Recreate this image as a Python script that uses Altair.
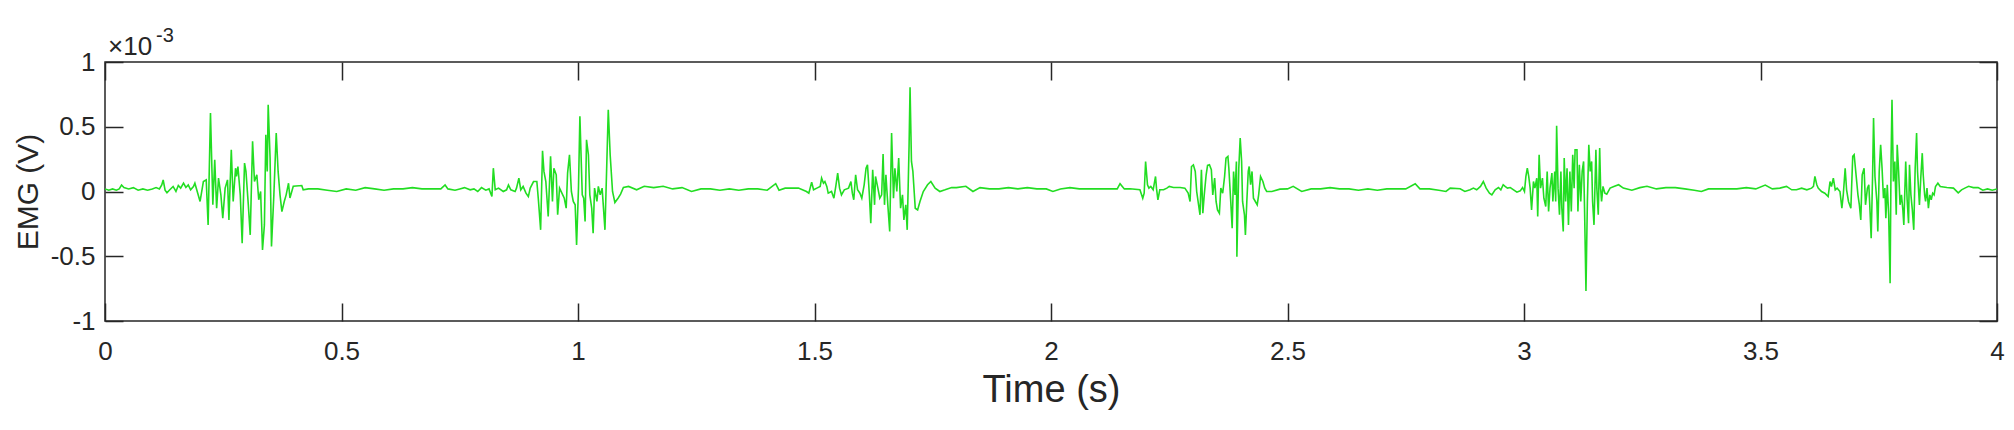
import altair as alt
import pandas as pd

FONT = "Liberation Sans"
AXIS_COLOR = "#262626"
LINE_COLOR = "#22DD22"

# Tick values
x_ticks = [0, 0.5, 1, 1.5, 2, 2.5, 3, 3.5, 4]
y_ticks = [-1, -0.5, 0, 0.5, 1]

# EMG signal (time in s, value in units of 1e-3 V)
q0_t = [0.000, 0.008, 0.016, 0.024, 0.030, 0.035, 0.040, 0.050, 0.060, 0.070, 0.080, 0.090, 0.100, 0.108, 0.115, 0.120, 0.123, 0.127, 0.131]
q0_v = [0.02, 0.01, 0.02, 0.01, 0.02, 0.05, 0.03, 0.02, 0.03, 0.01, 0.02, 0.01, 0.02, 0.03, 0.02, 0.05, 0.09, 0.01, -0.01]

b1_t = [0.137, 0.144, 0.150, 0.155, 0.160, 0.166, 0.171, 0.176, 0.181, 0.187,
        0.190, 0.201, 0.208, 0.214, 0.218, 0.223, 0.228, 0.232, 0.236, 0.240,
        0.245, 0.249, 0.254, 0.259, 0.262, 0.267, 0.271, 0.276, 0.278, 0.281,
        0.286, 0.290, 0.295, 0.298, 0.303, 0.307, 0.312, 0.316, 0.321, 0.325,
        0.329, 0.333, 0.337, 0.340, 0.343, 0.345, 0.349, 0.352, 0.357, 0.362,
        0.366, 0.370, 0.374, 0.379, 0.383, 0.388, 0.391, 0.398, 0.416, 0.419]
b1_v = [0.013, 0.039, 0.0, 0.046, 0.026, 0.064, 0.031, 0.051, 0.013, 0.039,
        0.064, -0.077, 0.077, 0.090, -0.258, 0.606, -0.103, 0.245, -0.129, 0.103,
        -0.026, -0.206, 0.026, 0.090, -0.219, 0.322, -0.077, 0.180, 0.116, 0.193,
        -0.026, -0.399, 0.219, 0.155, -0.103, -0.335, 0.387, 0.077, 0.129, -0.064,
        0.0, -0.451, -0.258, 0.438, 0.155, 0.670, 0.258, -0.425, -0.026, 0.451,
        0.155, -0.026, -0.155, -0.077, -0.026, 0.064, -0.050, 0.040, 0.046, 0.013]

q1_t = [0.43, 0.45, 0.47, 0.49, 0.51, 0.53, 0.55, 0.57, 0.59, 0.61, 0.63, 0.65, 0.67, 0.69, 0.71, 0.719, 0.725, 0.74, 0.75, 0.76]
q1_v = [0.02, 0.02, 0.01, 0.0, 0.02, 0.01, 0.03, 0.02, 0.01, 0.02, 0.02, 0.03, 0.02, 0.02, 0.02, 0.05, 0.02, 0.01, 0.02, 0.03]

b2_t = [0.772, 0.780, 0.788, 0.796, 0.805, 0.812, 0.818, 0.821, 0.825, 0.832,
        0.842, 0.849, 0.853, 0.858, 0.867, 0.870, 0.875, 0.879, 0.884, 0.890,
        0.895, 0.899, 0.906, 0.913, 0.916, 0.921, 0.925, 0.928, 0.932, 0.937,
        0.942, 0.946, 0.949, 0.954, 0.957, 0.961, 0.966, 0.971, 0.975, 0.978,
        0.982, 0.986, 0.990, 0.994, 0.997, 1.001, 1.004, 1.009, 1.012, 1.015,
        1.018, 1.022, 1.025, 1.029, 1.032, 1.035, 1.040, 1.043, 1.047, 1.051,
        1.057, 1.061, 1.064, 1.068, 1.073, 1.078, 1.085, 1.090, 1.096, 1.107, 1.124]
b2_v = [0.013, 0.020, 0.0, 0.030, 0.010, 0.020, -0.039, 0.180, 0.013, 0.026,
        0.0, 0.013, 0.050, 0.013, 0.0, 0.026, 0.103, 0.013, 0.039, -0.013,
        -0.039, 0.026, 0.077, 0.077, -0.052, -0.296, 0.314, 0.155, 0.077, -0.193,
        0.271, -0.077, 0.180, 0.129, -0.180, 0.026, -0.013, -0.052, -0.129, 0.142,
        0.284, 0.0, -0.077, -0.103, -0.412, 0.026, 0.580, -0.026, -0.052, -0.232,
        0.399, 0.284, -0.026, -0.129, -0.322, 0.026, -0.077, 0.039, -0.026, 0.026,
        -0.296, 0.232, 0.631, 0.284, 0.0, -0.085, -0.050, -0.020, 0.031, 0.039, 0.013]

q2_t = [1.14, 1.16, 1.18, 1.20, 1.22, 1.24, 1.26, 1.28, 1.30, 1.32, 1.34, 1.36, 1.38, 1.40, 1.418, 1.425]
q2_v = [0.04, 0.03, 0.04, 0.02, 0.03, 0.0, 0.02, 0.02, 0.01, 0.02, 0.01, 0.02, 0.02, 0.01, 0.06, 0.01]

b3_t = [1.438, 1.466, 1.483, 1.488, 1.494, 1.498, 1.505, 1.512, 1.515, 1.519,
        1.522, 1.526, 1.529, 1.536, 1.541, 1.545, 1.549, 1.553, 1.557, 1.563,
        1.572, 1.577, 1.580, 1.583, 1.587, 1.591, 1.596, 1.600, 1.605, 1.609,
        1.612, 1.616, 1.619, 1.623, 1.627, 1.629, 1.634, 1.638, 1.642, 1.645,
        1.648, 1.651, 1.655, 1.659, 1.663, 1.667, 1.670, 1.674, 1.678, 1.682,
        1.686, 1.689, 1.693, 1.696, 1.700, 1.702, 1.705, 1.708, 1.713, 1.718,
        1.723, 1.730, 1.739, 1.746, 1.755, 1.765, 1.776, 1.790]
b3_v = [0.026, 0.026, 0.0, -0.013, 0.072, 0.013, 0.026, 0.039, 0.103, 0.064,
        0.077, 0.039, -0.013, 0.0, -0.052, 0.039, 0.142, 0.026, -0.026, 0.013,
        0.026, 0.077, -0.013, -0.064, 0.129, 0.013, -0.013, -0.052, 0.052, 0.180,
        0.206, -0.026, -0.245, 0.168, -0.103, 0.116, 0.026, -0.052, -0.026, 0.290,
        -0.103, 0.129, -0.103, -0.309, 0.451, -0.052, 0.180, 0.0, 0.258, -0.129,
        -0.026, -0.219, -0.103, -0.296, 0.361, 0.804, 0.232, 0.155, -0.129, -0.142,
        -0.077, 0.0, 0.052, 0.077, 0.026, 0.0, 0.013, 0.031]

q3_t = [1.80, 1.82, 1.835, 1.85, 1.87, 1.89, 1.91, 1.93, 1.95, 1.97, 1.99, 2.004, 2.02, 2.04, 2.06, 2.08, 2.10, 2.12, 2.14, 2.146, 2.155]
q3_v = [0.03, 0.04, 0.0, 0.03, 0.02, 0.02, 0.03, 0.02, 0.03, 0.02, 0.02, 0.0, 0.02, 0.03, 0.02, 0.02, 0.02, 0.02, 0.02, 0.06, 0.02]

b4_t = [2.167, 2.188, 2.194, 2.197, 2.200, 2.204, 2.207, 2.211, 2.216, 2.221,
        2.223, 2.226, 2.230, 2.238, 2.245, 2.250, 2.259, 2.273, 2.283, 2.290,
        2.294, 2.297, 2.301, 2.305, 2.308, 2.312, 2.315, 2.318, 2.321, 2.324,
        2.328, 2.331, 2.335, 2.339, 2.342, 2.346, 2.349, 2.352, 2.356, 2.359,
        2.363, 2.367, 2.370, 2.374, 2.376, 2.380, 2.383, 2.386, 2.389, 2.392,
        2.393, 2.397, 2.400, 2.403, 2.405, 2.409, 2.411, 2.414, 2.417, 2.419,
        2.422, 2.425, 2.428, 2.432, 2.436, 2.439, 2.443, 2.448, 2.452, 2.456,
        2.467, 2.484]
b4_v = [0.021, 0.013, -0.052, -0.013, 0.232, 0.052, 0.026, 0.039, 0.013, 0.116,
        0.026, -0.064, 0.013, 0.013, 0.026, 0.039, 0.031, 0.031, 0.026, -0.013,
        -0.077, 0.193, 0.206, 0.155, 0.0, -0.103, -0.180, 0.168, -0.168, -0.026,
        0.129, 0.201, 0.206, 0.168, -0.026, 0.103, -0.077, -0.142, -0.168, 0.026,
        -0.013, 0.116, 0.258, 0.271, 0.180, -0.077, -0.284, 0.155, -0.026, 0.232,
        -0.503, 0.180, 0.412, 0.232, -0.077, -0.180, -0.335, -0.077, 0.155, 0.193,
        0.052, 0.155, -0.052, -0.077, -0.103, -0.026, 0.116, 0.077, 0.026, 0.0,
        0.0, 0.018]

q4_t = [2.50, 2.512, 2.53, 2.55, 2.57, 2.59, 2.61, 2.63, 2.65, 2.67, 2.69, 2.71, 2.73, 2.75, 2.77, 2.78, 2.80, 2.82, 2.835]
q4_v = [0.02, 0.04, 0.0, 0.02, 0.02, 0.03, 0.02, 0.02, 0.01, 0.02, 0.01, 0.02, 0.02, 0.02, 0.06, 0.02, 0.02, 0.01, 0.0]

b5_t = [2.844, 2.865, 2.875, 2.886, 2.893, 2.900, 2.908, 2.914, 2.920, 2.927,
        2.932, 2.939, 2.946, 2.951, 2.956, 2.960, 2.965, 2.971, 2.978, 2.985,
        2.992, 2.997, 3.001, 3.004, 3.007, 3.010, 3.013, 3.016, 3.020, 3.023,
        3.027, 3.029, 3.032, 3.035, 3.039, 3.042, 3.046, 3.049, 3.052, 3.055,
        3.059, 3.061, 3.065, 3.067, 3.069, 3.072, 3.075, 3.078, 3.080, 3.083,
        3.085, 3.088, 3.091, 3.094, 3.097, 3.100, 3.103, 3.106, 3.108, 3.112,
        3.114, 3.117, 3.120, 3.123, 3.126, 3.128, 3.131, 3.134, 3.137, 3.140,
        3.143, 3.145, 3.148, 3.152, 3.154, 3.157, 3.160, 3.162, 3.164, 3.167,
        3.171, 3.175, 3.182, 3.190, 3.200, 3.210]
b5_v = [0.026, 0.021, 0.0, 0.013, 0.026, 0.013, 0.039, 0.077, 0.026, -0.013,
        -0.026, 0.013, 0.031, 0.013, 0.052, 0.039, 0.026, 0.031, 0.013, -0.005,
        0.005, 0.031, 0.0, 0.116, 0.180, 0.116, 0.026, -0.142, 0.077, 0.026,
        0.103, -0.193, 0.284, 0.026, 0.103, -0.052, -0.116, 0.155, -0.155, 0.026,
        0.142, -0.077, 0.155, -0.077, 0.508, 0.026, -0.180, 0.155, -0.129, -0.309,
        0.258, -0.077, 0.180, -0.258, 0.155, -0.155, 0.284, 0.026, 0.322, 0.322,
        -0.155, 0.206, -0.077, 0.155, 0.232, -0.129, -0.768, -0.077, 0.361, 0.155,
        0.232, -0.077, -0.258, 0.322, 0.026, -0.180, 0.335, 0.026, -0.077, 0.039,
        -0.013, -0.020, 0.026, 0.039, 0.052, 0.026]

q5_t = [3.228, 3.245, 3.26, 3.28, 3.30, 3.32, 3.34, 3.36, 3.375, 3.39, 3.41, 3.43, 3.45, 3.47, 3.49, 3.51, 3.525]
q5_v = [0.01, 0.03, 0.04, 0.02, 0.03, 0.03, 0.02, 0.01, 0.0, 0.02, 0.02, 0.02, 0.02, 0.03, 0.02, 0.05, 0.02]

b6_t = [3.541, 3.555, 3.566, 3.576, 3.587, 3.598, 3.608, 3.612, 3.615, 3.619,
        3.622, 3.629, 3.636, 3.643, 3.647, 3.650, 3.654, 3.658, 3.662, 3.668,
        3.672, 3.675, 3.679, 3.682, 3.686, 3.691, 3.695, 3.698, 3.702, 3.706,
        3.709, 3.712, 3.715, 3.719, 3.722, 3.726, 3.729, 3.731, 3.734, 3.737,
        3.739, 3.742, 3.746, 3.748, 3.751, 3.754, 3.757, 3.760, 3.763, 3.765,
        3.768, 3.771, 3.774, 3.776, 3.778, 3.781, 3.784, 3.787, 3.789, 3.792,
        3.795, 3.798, 3.801, 3.803, 3.807, 3.810, 3.813, 3.815, 3.818, 3.821,
        3.824, 3.827, 3.830, 3.832, 3.836, 3.839, 3.842, 3.844, 3.847, 3.849,
        3.852, 3.855, 3.858, 3.861, 3.864, 3.867, 3.870, 3.875, 3.880, 3.894,
        3.908, 3.918, 3.925, 3.932]
b6_v = [0.026, 0.039, 0.013, 0.013, 0.026, 0.013, 0.026, 0.039, 0.116, 0.052,
        0.026, 0.0, -0.013, -0.039, 0.077, 0.039, 0.103, 0.013, 0.026, 0.0,
        -0.129, -0.026, 0.180, 0.013, -0.077, -0.129, 0.271, 0.284, 0.129, -0.026,
        -0.103, -0.219, 0.129, 0.180, -0.103, 0.026, 0.052, -0.103, -0.361, 0.129,
        0.567, 0.116, -0.077, -0.309, 0.155, 0.361, 0.180, -0.052, 0.026, -0.206,
        0.052, -0.180, -0.709, 0.232, 0.709, 0.077, 0.232, -0.180, 0.361, 0.155,
        -0.103, -0.026, -0.142, -0.258, 0.232, -0.064, -0.245, 0.206, -0.026, -0.142,
        -0.296, 0.180, 0.451, 0.155, -0.103, 0.116, 0.296, 0.129, -0.026, -0.077,
        0.026, -0.129, -0.026, -0.064, -0.013, -0.026, 0.039, 0.064, 0.039, 0.031,
        0.026, -0.010, 0.013, 0.026]

q6_t = [3.94, 3.95, 3.96, 3.97, 3.98, 3.99, 4.0]
q6_v = [0.04, 0.03, 0.03, 0.01, 0.02, 0.01, 0.02]

segments = [(q0_t, q0_v), (b1_t, b1_v), (q1_t, q1_v), (b2_t, b2_v), (q2_t, q2_v),
            (b3_t, b3_v), (q3_t, q3_v), (b4_t, b4_v), (q4_t, q4_v), (b5_t, b5_v),
            (q5_t, q5_v), (b6_t, b6_v), (q6_t, q6_v)]
rows = []
for ts, vs in segments:
    rows.extend(zip(ts, vs))
df = pd.DataFrame(rows, columns=["t", "v"]).sort_values("t").reset_index(drop=True)

x_scale = alt.Scale(domain=[0, 4], nice=False, zero=False)
y_scale = alt.Scale(domain=[-1, 1], nice=False, zero=False)

TICK = 18
W, H = 1892, 259

line = alt.Chart(df).mark_line(color=LINE_COLOR, strokeWidth=1.6, clip=True).encode(
    x=alt.X("t:Q", scale=x_scale, axis=alt.Axis(
        orient="bottom", values=x_ticks, offset=-TICK, tickSize=TICK, tickWidth=1.5,
        tickColor=AXIS_COLOR, domain=False, grid=False, labelPadding=17,
        labelFontSize=26, labelFont=FONT, labelColor=AXIS_COLOR, labelFlush=False,
        labelOverlap=False, labelExpr="toString(datum.value)",
        title="Time (s)", titleFont=FONT, titleFontSize=38, titleFontWeight="normal",
        titleColor=AXIS_COLOR, titleX=W / 2, titleY=87, titleAlign="center",
        titleBaseline="middle")),
    y=alt.Y("v:Q", scale=y_scale, axis=alt.Axis(
        orient="left", values=y_ticks, offset=-TICK, tickSize=TICK, tickWidth=1.5,
        tickColor=AXIS_COLOR, domain=False, grid=False, labelPadding=10,
        labelFontSize=26, labelFont=FONT, labelColor=AXIS_COLOR, labelFlush=False,
        labelOverlap=False, labelExpr="toString(datum.value)",
        title="EMG (V)", titleFont=FONT, titleFontSize=30, titleFontWeight="normal",
        titleColor=AXIS_COLOR, titleX=-95, titleY=H / 2, titleAngle=270,
        titleAlign="center", titleBaseline="middle")),
    order="t:Q",
)

mirror = alt.Chart(df).mark_line(opacity=0).encode(
    x=alt.X("t:Q", scale=x_scale, axis=alt.Axis(
        orient="top", values=x_ticks, offset=-TICK, tickSize=TICK, tickWidth=1.5,
        tickColor=AXIS_COLOR, domain=False, grid=False, labels=False, title=None)),
    y=alt.Y("v:Q", scale=y_scale, axis=alt.Axis(
        orient="right", values=y_ticks, offset=-TICK, tickSize=TICK, tickWidth=1.5,
        tickColor=AXIS_COLOR, domain=False, grid=False, labels=False, title=None)),
    order="t:Q",
)

exp_df = pd.DataFrame({"base": ["×10"], "exp": ["-3"]})
exp_base = alt.Chart(exp_df).mark_text(
    align="left", baseline="alphabetic", fontSize=26, font=FONT, color=AXIS_COLOR
).encode(x=alt.value(3), y=alt.value(-7), text="base:N")
exp_power = alt.Chart(exp_df).mark_text(
    align="left", baseline="alphabetic", fontSize=20, font=FONT, color=AXIS_COLOR
).encode(x=alt.value(51), y=alt.value(-20), text="exp:N")

chart = alt.layer(line, mirror, exp_base, exp_power).properties(
    width=W, height=H,
    autosize=alt.AutoSizeParams(type="none"),
    padding={"left": 97, "top": 54, "right": 8, "bottom": 90},
    background="white",
).configure_view(stroke=AXIS_COLOR, strokeWidth=1.5)

chart.save("out.html", embed_options={"renderer": "svg", "actions": False})
